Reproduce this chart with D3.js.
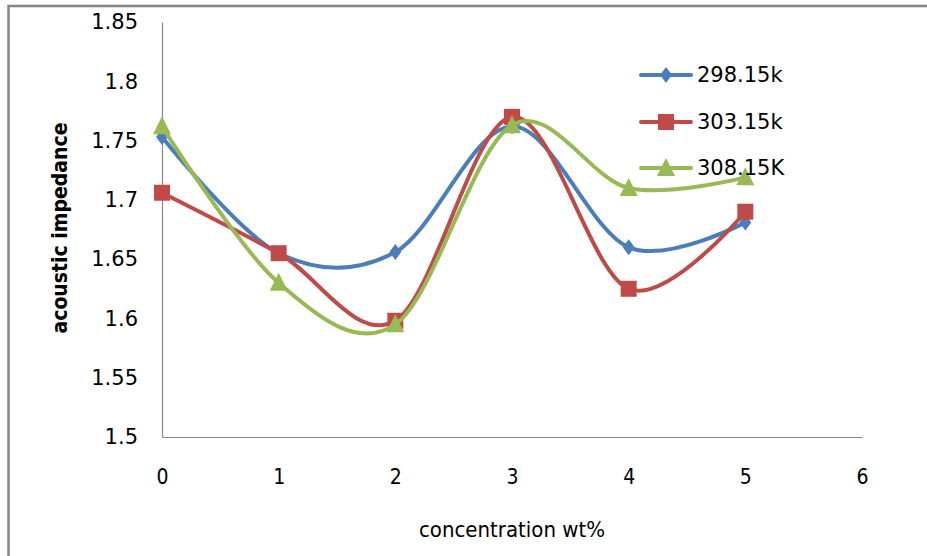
<!DOCTYPE html>
<html>
<head>
<meta charset="utf-8">
<script src="https://cdn.jsdelivr.net/npm/d3@7"></script>
<style>
  html, body { margin: 0; padding: 0; background: #fff; }
  svg { display: block; }
</style>
</head>
<body>
<svg id="chart" width="927" height="556"></svg>
<script>
const concentration = [0, 1, 2, 3, 4, 5];
const seriesNames = ["298.15k", "303.15k", "308.15K"];
const values298 = [1.753, 1.655, 1.656, 1.762, 1.660, 1.681];
const values303 = [1.706, 1.655, 1.598, 1.770, 1.625, 1.690];
const values308 = [1.762, 1.630, 1.595, 1.763, 1.710, 1.719];
const seriesColors = ["#4a7ebb", "#be4b48", "#98b954"];
const seriesMarkers = ["diamond", "square", "triangle"];
const xTicks = [0, 1, 2, 3, 4, 5, 6];
const yTicks = [1.5, 1.55, 1.6, 1.65, 1.7, 1.75, 1.8, 1.85];
const xTitle = "concentration wt%";
const yTitle = "acoustic impedance";

const series = [values298, values303, values308].map((vals, i) => ({
  name: seriesNames[i], color: seriesColors[i], marker: seriesMarkers[i],
  points: vals.map((v, j) => ({ x: concentration[j], y: v }))
}));

const svg = d3.select("#chart");

// outer chart frame (cropped: only top and left edges visible)
svg.append("rect").attr("x", 8.5).attr("y", 6).attr("width", 1000).attr("height", 700)
  .attr("fill", "none").attr("stroke", "#858585").attr("stroke-width", 2.5);

const x = d3.scaleLinear().domain([0, 6]).range([162, 862]);
const y = d3.scaleLinear().domain([1.5, 1.85]).range([437, 22]);

// axes
const xAxis = d3.axisBottom(x).tickValues(xTicks).tickSize(0).tickPadding(32).tickFormat(d3.format("d"));
const yAxis = d3.axisLeft(y).tickValues(yTicks).tickSize(0).tickPadding(24)
  .tickFormat(d => d3.format("")(+d.toFixed(2)));

const gx = svg.append("g").attr("transform", `translate(0,${y(1.5)})`).call(xAxis);
gx.select(".domain").attr("stroke", "#868686").attr("stroke-width", 1.2);
gx.selectAll("text").attr("font-family", "'DejaVu Sans Condensed', 'DejaVu Sans', sans-serif")
  .attr("font-size", 21).attr("fill", "#000");

const gy = svg.append("g").attr("transform", `translate(${x(0)},0)`).call(yAxis);
gy.select(".domain").attr("stroke", "#868686").attr("stroke-width", 1.2);
gy.selectAll("text").attr("font-family", "'DejaVu Sans', sans-serif")
  .attr("font-size", 21).attr("fill", "#000");

// axis titles
svg.append("text").attr("x", x(3)).attr("y", 537).attr("text-anchor", "middle")
  .attr("font-family", "'DejaVu Sans Condensed', 'DejaVu Sans', sans-serif")
  .attr("font-size", 22).attr("fill", "#000").text(xTitle);
svg.append("text").attr("transform", `translate(67,${228}) rotate(-90)`).attr("text-anchor", "middle")
  .attr("font-family", "'DejaVu Sans Condensed', 'DejaVu Sans', sans-serif")
  .attr("font-weight", "bold").attr("font-size", 21).attr("fill", "#000").text(yTitle);

const line = d3.line().x(d => x(d.x)).y(d => y(d.y)).curve(d3.curveCardinal.tension(0));

// marker shapes (pixel-sized paths around the data point)
function markerPath(m) {
  if (m === "diamond") return "M0,-8L6,0L0,8L-6,0Z";
  if (m === "square") return "M-8,-8H8V8H-8Z";
  return "M0,-10L9,8H-9Z";
}

function drawMarker(g, m, color, cx, cy) {
  g.append("path")
    .attr("d", markerPath(m))
    .attr("transform", `translate(${cx},${cy})`)
    .attr("fill", color);
}

series.forEach(s => {
  const g = svg.append("g");
  g.append("path").datum(s.points).attr("d", line)
    .attr("fill", "none").attr("stroke", s.color).attr("stroke-width", 4)
    .attr("stroke-linecap", "round").attr("stroke-linejoin", "round");
  s.points.forEach(p => drawMarker(g, s.marker, s.color, x(p.x), y(p.y)));
});

// legend
const legendY = [75, 122, 168];
series.forEach((s, i) => {
  const g = svg.append("g");
  g.append("line").attr("x1", 641).attr("x2", 691).attr("y1", legendY[i]).attr("y2", legendY[i])
    .attr("stroke", s.color).attr("stroke-width", 4).attr("stroke-linecap", "round");
  drawMarker(g, s.marker, s.color, 666, legendY[i]);
  g.append("text").attr("x", 697).attr("y", legendY[i]).attr("dy", "0.35em")
    .attr("font-family", "'DejaVu Sans', sans-serif").attr("font-size", 21).attr("fill", "#000")
    .text(s.name);
});
</script>
</body>
</html>
